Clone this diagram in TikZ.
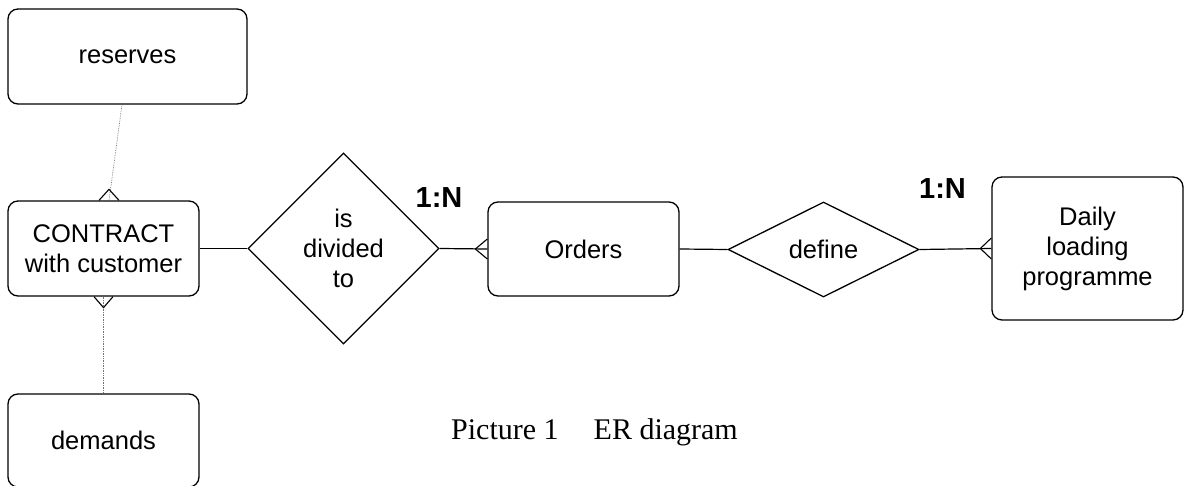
\documentclass[tikz,border=0pt]{standalone}
\usepackage{fontspec}
\setmainfont{Liberation Sans}
\newfontfamily\capfont{Liberation Serif}
\usetikzlibrary{shapes.geometric}
\begin{document}
\begin{tikzpicture}[x=1pt,y=-1pt,
  entity/.style={draw=black, line width=1.3pt, rounded corners=10pt, inner sep=0pt, align=center,
    font=\fontsize{25.5}{30}\selectfont},
  rel/.style={draw=black, line width=1.3pt, diamond, inner sep=0pt, align=center,
    font=\fontsize{25.5}{30}\selectfont},
  conn/.style={draw=black, line width=1.2pt},
  thinconn/.style={draw=black!55, line width=0.7pt, densely dotted},
  crow/.style={draw=black, line width=1.1pt},
  card/.style={font=\bfseries\fontsize{29}{34}\selectfont, inner sep=0pt, anchor=base}]
\useasboundingbox (0,0) rectangle (1184,486);
% entities
\node[entity, minimum width=239pt, minimum height=95pt] (res) at (127.5,56.5) {reserves};
\node[entity, minimum width=191pt, minimum height=95pt] (con) at (103.5,248.5) {CONTRACT\\with customer};
\node[entity, minimum width=191pt, minimum height=93pt] (dem) at (103.5,440.5) {demands};
\node[entity, minimum width=191pt, minimum height=94pt] (ord) at (583.5,249) {Orders};
\node[entity, minimum width=191pt, minimum height=143pt] (day) at (1087.5,248.5) {Daily\\loading\\programme};
% relationships
\node[rel, minimum width=191pt, minimum height=191pt] (div) at (343.5,248.5) {is\\divided\\to};
\node[rel, aspect=2, minimum width=191pt, minimum height=95pt] (def) at (823.5,249.5) {define};
% connectors
\draw[conn] (con.east) -- (div.west);
\draw[conn] (div.east) -- (ord.west);
\draw[conn] (ord.east) -- (def.west);
\draw[conn] (def.east) -- (day.west);
\draw[thinconn] ([xshift=-5.5pt]res.south) -- ([xshift=5.5pt]con.north);
\draw[thinconn] (con.south) -- (dem.north);
% crow's feet
\draw[crow] ([yshift=10pt]ord.west) -- ([xshift=-12pt]ord.west) -- ([yshift=-10pt]ord.west);
\draw[crow] ([yshift=10.5pt]day.west) -- ([xshift=-11pt]day.west) -- ([yshift=-10.5pt]day.west);
\draw[crow] ([xshift=-4.5pt]con.north) -- ([xshift=5.5pt,yshift=11pt]con.north) -- ([xshift=15.5pt]con.north);
\draw[crow] ([xshift=-9.5pt]con.south) -- ([yshift=-11pt]con.south) -- ([xshift=9.5pt]con.south);
% cardinalities
\node[card] (c1) at (439,208) {1:N};
\node[card] (c2) at (942.5,199) {1:N};
% caption
\node[font=\capfont\fontsize{30}{36}\selectfont, inner sep=0pt, anchor=base west] (cap) at (451,439) {Picture 1\hspace{35pt}ER diagram};
\end{tikzpicture}
\end{document}
